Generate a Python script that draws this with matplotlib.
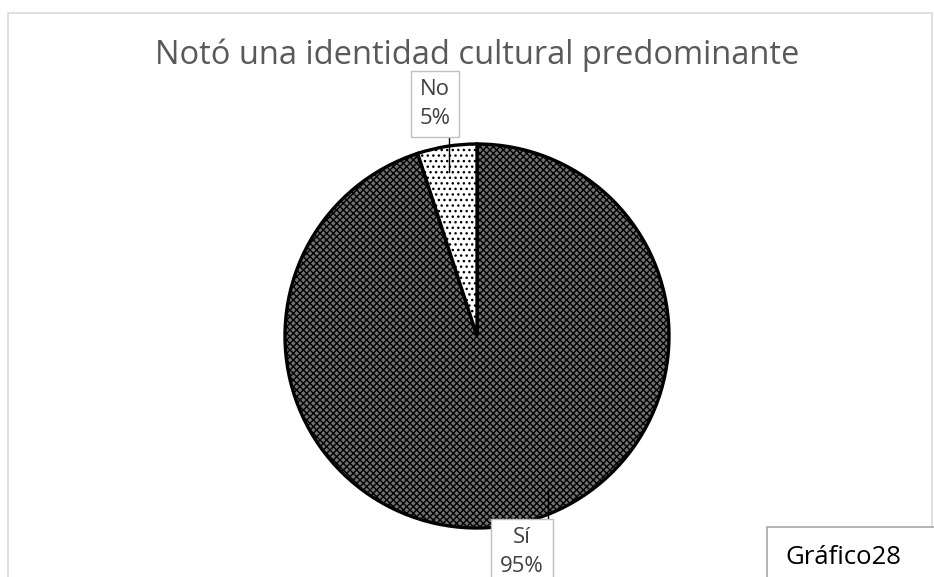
import matplotlib.pyplot as plt
from matplotlib.patches import Rectangle

# Data
categories = ["Sí", "No"]
values = [95, 5]
hatches = ["xxxxx", "..."]
faces = ["#707070", "white"]

plt.rcParams['font.family'] = ['Open Sans', 'DejaVu Sans']
plt.rcParams['hatch.linewidth'] = 1.0

W, H = 934, 577
fig = plt.figure(figsize=(W / 100, H / 100), dpi=100)
ax = fig.add_axes([0, 0, 1, 1])

# pixel coords -> data (y up)
def py(y):
    return H - y

wedges, _ = ax.pie(values, startangle=90, counterclock=False, radius=192,
                   center=(477, py(336)), frame=True,
                   wedgeprops=dict(edgecolor="black", linewidth=2.4))
for w, h, fc in zip(wedges, hatches, faces):
    w.set_facecolor(fc)
    w.set_hatch(h)

ax.set_xlim(0, W)
ax.set_ylim(0, H)
ax.set_aspect("equal")
ax.axis("off")

# chart border
ax.add_patch(Rectangle((8, py(620)), 924, 607, fill=False,
                       edgecolor="#d9d9d9", linewidth=1.2, clip_on=False))

ax.text(477, py(55), "Notó una identidad cultural predominante",
        ha="center", va="center", fontsize=23.5, color="#595959")

# data labels with leader lines
ax.plot([449, 449], [py(136), py(172)], color="black", linewidth=1)
ax.text(435, py(104), f"{categories[1]}\n{values[1]}%", ha="center", va="center",
        fontsize=16, color="#404040", linespacing=1.45,
        bbox=dict(boxstyle="square,pad=0.4", facecolor="white", edgecolor="#bfbfbf"))

ax.plot([548, 548], [py(490), py(518)], color="black", linewidth=1)
ax.text(522, py(552), f"{categories[0]}\n{values[0]}%", ha="center", va="center",
        fontsize=16, color="#404040", linespacing=1.45,
        bbox=dict(boxstyle="square,pad=0.4", facecolor="white", edgecolor="#bfbfbf"))

ax.add_patch(Rectangle((767, py(600)), 200, 73, facecolor="white",
                       edgecolor="#a6a6a6", linewidth=1.2, clip_on=False))
ax.text(785, py(557), "Gráfico28", ha="left", va="center", fontsize=18.5, color="black")

fig.savefig("out.png", dpi=100)
